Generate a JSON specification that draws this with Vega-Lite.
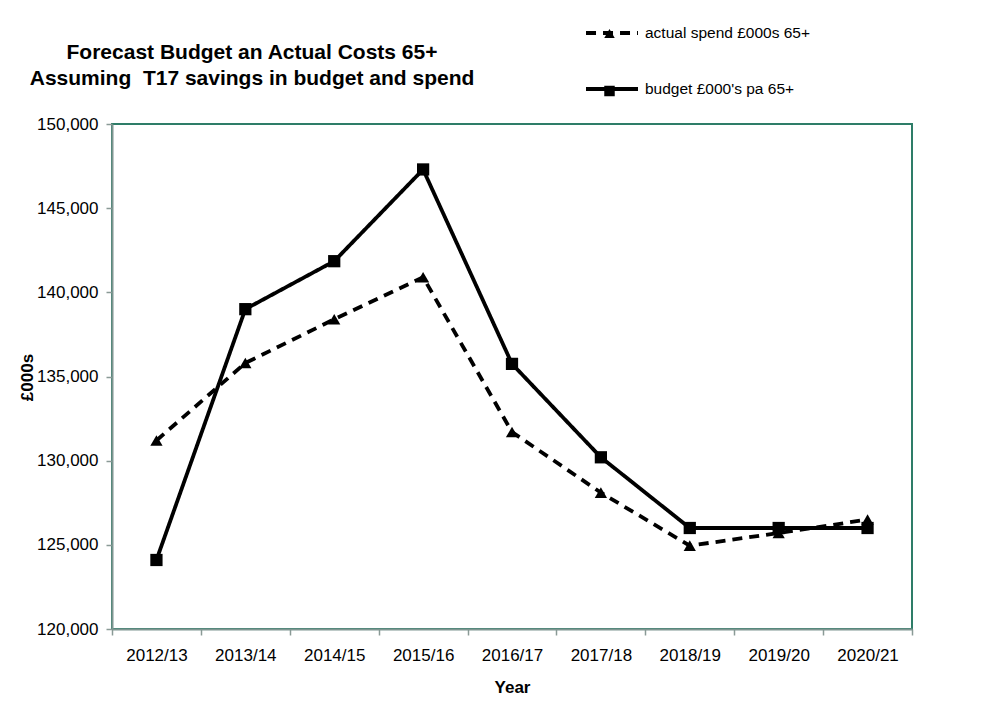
{
  "$schema": "https://vega.github.io/schema/vega-lite/v6.json",
  "autosize": {"type": "none"},
  "padding": {"left": 112, "top": 124, "right": 78, "bottom": 84},
  "width": 800,
  "height": 505,
  "background": "white",
  "title": {
    "text": ["Forecast Budget an Actual Costs 65+", "Assuming \u00a0T17 savings in budget and spend"],
    "anchor": "start",
    "frame": "group",
    "align": "center",
    "dx": 140,
    "dy": 114,
    "offset": 30,
    "font": "Liberation Sans",
    "fontSize": 21,
    "fontWeight": "bold",
    "color": "black",
    "lineHeight": 26
  },
  "config": {
    "font": "Liberation Sans",
    "view": {"stroke": "#2E7D68", "strokeWidth": 2},
    "axis": {
      "labelFont": "Liberation Sans",
      "titleFont": "Liberation Sans",
      "labelColor": "black",
      "titleColor": "black",
      "grid": false,
      "domainColor": "#7f9691",
      "domainWidth": 2,
      "tickColor": "#8a9a96",
      "tickWidth": 1.5,
      "tickSize": 6
    }
  },
  "data": {
    "values": [
      {"year": "2012/13", "series": "actual spend £000s 65+", "value": 131200},
      {"year": "2013/14", "series": "actual spend £000s 65+", "value": 135800},
      {"year": "2014/15", "series": "actual spend £000s 65+", "value": 138400},
      {"year": "2015/16", "series": "actual spend £000s 65+", "value": 140900},
      {"year": "2016/17", "series": "actual spend £000s 65+", "value": 131700},
      {"year": "2017/18", "series": "actual spend £000s 65+", "value": 128100},
      {"year": "2018/19", "series": "actual spend £000s 65+", "value": 124950},
      {"year": "2019/20", "series": "actual spend £000s 65+", "value": 125700},
      {"year": "2020/21", "series": "actual spend £000s 65+", "value": 126500},
      {"year": "2012/13", "series": "budget £000's pa 65+", "value": 124100},
      {"year": "2013/14", "series": "budget £000's pa 65+", "value": 139000},
      {"year": "2014/15", "series": "budget £000's pa 65+", "value": 141850},
      {"year": "2015/16", "series": "budget £000's pa 65+", "value": 147300},
      {"year": "2016/17", "series": "budget £000's pa 65+", "value": 135750},
      {"year": "2017/18", "series": "budget £000's pa 65+", "value": 130200},
      {"year": "2018/19", "series": "budget £000's pa 65+", "value": 126000},
      {"year": "2019/20", "series": "budget £000's pa 65+", "value": 126000},
      {"year": "2020/21", "series": "budget £000's pa 65+", "value": 126000}
    ]
  },
  "encoding": {
    "x": {
      "field": "year",
      "type": "nominal",
      "bandPosition": 0.5,
      "scale": {"type": "band", "paddingInner": 0, "paddingOuter": 0},
      "axis": {
        "title": "Year",
        "labelAngle": 0,
        "labelFontSize": 17,
        "labelPadding": 12,
        "titleFontSize": 17,
        "titleFontWeight": "bold",
        "titlePadding": 16,
        "tickBand": "extent"
      }
    },
    "y": {
      "field": "value",
      "type": "quantitative",
      "scale": {"domain": [120000, 150000], "nice": false, "zero": false},
      "axis": {
        "title": "£000s",
        "values": [120000, 125000, 130000, 135000, 140000, 145000, 150000],
        "labelExpr": "format(datum.value, ',.0f')",
        "labelFontSize": 17,
        "labelPadding": 8,
        "titleFontSize": 17,
        "titleFontWeight": "bold",
        "titleX": -76,
        "titleY": 253
      }
    }
  },
  "layer": [
    {
      "mark": {"type": "line", "color": "black", "strokeWidth": 3.8},
      "encoding": {
        "strokeDash": {
          "field": "series",
          "type": "nominal",
          "scale": {
            "domain": ["actual spend £000s 65+", "budget £000's pa 65+"],
            "range": [[10, 7], [1, 0]]
          },
          "legend": {
            "title": null,
            "orient": "none",
            "legendX": 472,
            "legendY": -119,
            "padding": 0,
            "symbolType": "stroke",
            "symbolSize": 2700,
            "symbolStrokeWidth": 3.8,
            "symbolStrokeColor": "black",
            "labelFontSize": 15.5,
            "labelFont": "Liberation Sans",
            "labelColor": "black",
            "labelOffset": 5,
            "labelLimit": 400,
            "rowPadding": 19
          }
        }
      }
    },
    {
      "mark": {"type": "point", "filled": true, "color": "black", "opacity": 1, "size": 150},
      "encoding": {
        "shape": {
          "field": "series",
          "type": "nominal",
          "scale": {"range": ["triangle-up", "square"]},
          "legend": {
            "title": null,
            "orient": "none",
            "legendX": 492,
            "legendY": -96,
            "padding": 0,
            "symbolSize": 110,
            "symbolFillColor": "black",
            "symbolStrokeWidth": 0,
            "symbolOpacity": 1,
            "labelExpr": "''",
            "labelFontSize": 1,
            "labelOffset": 0,
            "rowPadding": 46.5
          }
        }
      }
    }
  ]
}
